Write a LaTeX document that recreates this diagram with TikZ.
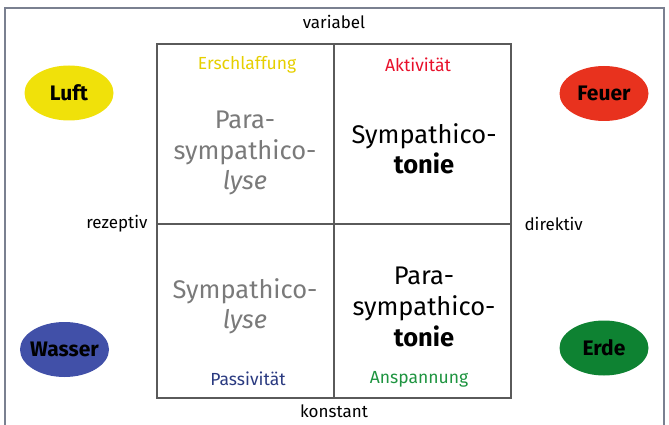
\documentclass[tikz,border=0pt]{standalone}
\usepackage{fontspec}
\setmainfont{Fira Sans}
\usetikzlibrary{shapes.geometric}
\definecolor{frame}{HTML}{7A8090}
\definecolor{gridc}{HTML}{5A5A5A}
\definecolor{luftc}{HTML}{F0E10A}
\definecolor{feuerc}{HTML}{E8321E}
\definecolor{wasserc}{HTML}{4150A8}
\definecolor{erdec}{HTML}{0E8232}
\definecolor{yel}{HTML}{E6CF00}
\definecolor{redt}{HTML}{E8102A}
\definecolor{navy}{HTML}{2A3A80}
\definecolor{grn}{HTML}{1E9440}
\definecolor{gr}{HTML}{7A7A7A}
\tikzset{
  elem/.style={ellipse, minimum width=89pt, minimum height=55pt, inner sep=0pt,
    label={[font=\fontsize{21}{23}\selectfont\bfseries, inner sep=0pt]center:#1}},
  axis/.style={font=\fontsize{17}{19}\selectfont, text=black},
  qlab/.style={font=\fontsize{17.5}{19}\selectfont},
  big/.style={align=center, font=\fontsize{25.5}{29}\selectfont, inner sep=0pt},
}
\begin{document}
\begin{tikzpicture}[x=1pt,y=-1pt]
\useasboundingbox (0,0) rectangle (669,425);
\draw[frame, line width=1.2pt] (5,425) -- (5,8) -- (664,8) -- (664,425);
% grid
\draw[gridc, line width=1.5pt] (157,44) rectangle (511,398);
\draw[gridc, line width=1.5pt] (334,44) -- (334,398);
\draw[gridc, line width=1.5pt] (157,224) -- (511,224);
% axis labels
\node[axis] (var) at (334,22) {variabel};
\node[axis] (kon) at (334,411) {konstant};
\node[axis, anchor=east] (rez) at (151,224) {rezeptiv};
\node[axis, anchor=west] (dir) at (521,224) {direktiv};
% quadrant labels
\node[qlab, text=yel] (ers) at (247,65) {Erschlaffung};
\node[qlab, text=redt] (akt) at (418,65) {Aktivität};
\node[qlab, text=navy] (pas) at (248,379) {Passivität};
\node[qlab, text=grn] (ans) at (419,379) {Anspannung};
% big texts
\node[big, text=gr] (q1) at (245,153) {Para-\\[2pt]sympathico-\\[1pt]\textit{lyse}};
\node[big, text=black] (q2) at (424,149) {Sympathico-\\[1pt]\textbf{tonie}};
\node[big, text=gr] (q3) at (245,306) {Sympathico-\\[1pt]\textit{lyse}};
\node[big, text=black] (q4) at (424,307) {Para-\\[2pt]sympathico-\\[2pt]\textbf{tonie}};
% elements
\node[elem=Luft, fill=luftc] (luft) at (69,93) {};
\node[elem=Feuer, fill=feuerc] (feuer) at (604,93.5) {};
\node[elem=Wasser, fill=wasserc] (wasser) at (64.5,349.5) {};
\node[elem=Erde, fill=erdec] (erde) at (604,348) {};
\end{tikzpicture}
\end{document}
